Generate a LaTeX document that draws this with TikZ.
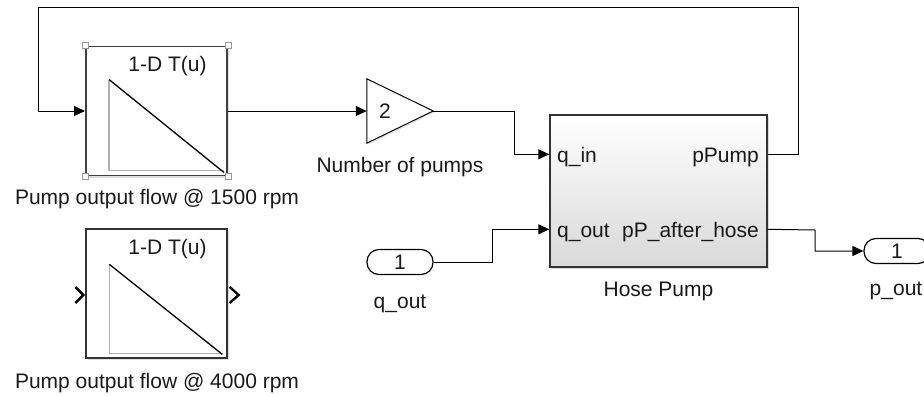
\documentclass[tikz,border=0pt]{standalone}
\usepackage{fontspec}
\setmainfont{Liberation Sans}
\usetikzlibrary{arrows.meta,shadows,calc}
\begin{document}
\begin{tikzpicture}[x=1pt,y=-1pt,
  every node/.style={font=\fontsize{21}{25}\selectfont, inner sep=0pt, text=black!90},
  wire/.style={draw=black, line width=1pt},
  arr/.style={wire, -{Triangle[length=11pt,width=10pt]}},
  lutbox/.style={draw=black!80, line width=1.3pt, fill=white, minimum width=141pt, minimum height=129pt,
     drop shadow={shadow xshift=2pt,shadow yshift=-2pt,fill=black!25}},
  gainbox/.style={minimum width=66pt, minimum height=64pt},
  portpill/.style={draw=black, line width=1.2pt, fill=white, rounded corners=12pt, minimum width=66pt, minimum height=25pt},
  hosebox/.style={draw=black!80, line width=1.4pt, top color=white, bottom color=black!15,
     minimum width=217pt, minimum height=152pt,
     drop shadow={shadow xshift=2pt,shadow yshift=-2pt,fill=black!30}},
  handle/.style={draw=black!40, line width=0.9pt, fill=white},
  chev/.style={draw=black, line width=2.4pt},
  lbl/.style={anchor=base},
]
\useasboundingbox (0,0) rectangle (924,396);
\clip (0,0) rectangle (924,396);

% blocks
\node[lutbox, line width=1.9pt, draw=black!75] (lut1) at (156.5,111) {};
\node[lutbox] (lut2) at (156.5,293.5) {};
\node[gainbox] (gain) at (400,111) {};
\draw[black, line width=1pt, fill=white, drop shadow={shadow xshift=1.5pt,shadow yshift=-1.5pt,fill=black!20}]
  (gain.north west) -- (gain.east) -- (gain.south west) -- cycle;
\node[hosebox] (hp) at (658.5,191) {};
\node[portpill] (inq) at (400,262) {};
\node[portpill] (outp) at (897,251) {};

% selection handles on lut1
\foreach \c in {north west,north east,south west,south east}
  \draw[handle] ($(lut1.\c)+(-3,-3)$) rectangle ++(6,6);

% lookup table icons
\draw[black!30, line width=1.2pt] ($(lut1.north west)+(24,34)$) -- ($(lut1.north west)+(24,125)$) -- ($(lut1.north west)+(139,125)$);
\draw[black, line width=1.3pt] ($(lut1.north west)+(24,34)$) -- ($(lut1.north west)+(139,127)$);
\draw[black!30, line width=1.2pt] ($(lut2.north west)+(24,36)$) -- ($(lut2.north west)+(24,125)$) -- ($(lut2.north west)+(137,125)$);
\draw[black, line width=1.3pt] ($(lut2.north west)+(24,36)$) -- ($(lut2.north west)+(137,126)$);

% unconnected port chevrons on lut2
\coordinate (c2in) at ($(lut2.west)+(0,1.5)$);
\coordinate (c2out) at ($(lut2.east)+(2,1.5)$);
\draw[chev] ($(c2in)+(-10,-8)$) -- ($(c2in)+(-2,0)$) -- ($(c2in)+(-10,8)$);
\draw[chev] ($(c2out)+(0,-8)$) -- ($(c2out)+(9,0)$) -- ($(c2out)+(0,8)$);

% port coordinates of the subsystem
\coordinate (hpin1) at ($(hp.north west)+(0,40)$);
\coordinate (hpin2) at ($(hp.north west)+(0,115)$);
\coordinate (hpout1) at ($(hp.north east)+(0,40)$);
\coordinate (hpout2) at ($(hp.north east)+(0,115)$);

% texts
\node[lbl] (t1) at (167.5,71) {1-D T(u)};
\node[lbl] (t2) at (167.5,254) {1-D T(u)};
\node[lbl] (l1) at (157,204) {Pump output flow @ 1500 rpm};
\node[lbl] (l2) at (157,388) {Pump output flow @ 4000 rpm};
\node[lbl] (g2) at (385,118) {2};
\node[lbl] (gl) at (400,172) {Number of pumps};
\node[lbl, anchor=base west] (pqin) at (557,162) {q\_in};
\node[lbl, anchor=base west] (pqout) at (557,237) {q\_out};
\node[lbl, anchor=base east] (ppump) at (759,162) {pPump};
\node[lbl, anchor=base east] (ppah) at (759,237) {pP\_after\_hose};
\node[lbl] (hl) at (658.5,296) {Hose Pump};
\node[lbl] (in1) at (400,269.5) {1};
\node[lbl] (inl) at (400,308) {q\_out};
\node[lbl] (out1) at (897,258.5) {1};
\node[lbl] (outl) at (896,295) {p\_out};

% connectors
\coordinate (fbtop) at (798,8);
\coordinate (fbleft) at (38,8);
\coordinate (j1) at (514,111);
\coordinate (j2) at (492,262);
\coordinate (j3) at (815,230);
\draw[arr] (hpout1) -| (fbtop) -- (fbleft) |- (lut1.west);
\draw[arr] (lut1.east) -- (gain.west);
\draw[arr] (gain.east) -- (j1) |- (hpin1);
\draw[arr] (inq.east) -- (j2) |- (hpin2);
\draw[arr] (hpout2) -- (j3) |- (outp.west);
\end{tikzpicture}
\end{document}
